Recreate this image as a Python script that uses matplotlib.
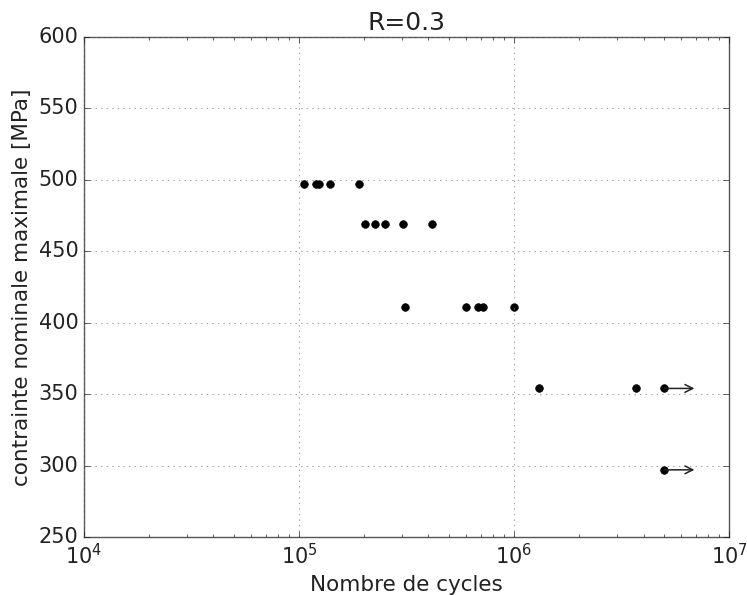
import matplotlib
matplotlib.use('Agg')
import matplotlib.pyplot as plt

# nombre de cycles et contrainte max pour R=0.3
cycles = [1.05e5, 1.20e5, 1.24e5, 1.39e5, 1.91e5,
          2.03e5, 2.26e5, 2.50e5, 3.06e5, 4.14e5,
          3.12e5, 5.96e5, 6.77e5, 7.14e5, 1.0e6,
          1.31e6, 3.69e6, 5.0e6,
          5.0e6]
contrainte = [497, 497, 497, 497, 497,
              469, 469, 469, 469, 469,
              411, 411, 411, 411, 411,
              354, 354, 354,
              297]
# essais arretes (non rompus)
runout_cycles = [5.0e6, 5.0e6]
runout_contrainte = [354, 297]

txt = '#222222'
plt.style.use('classic')
plt.rcParams['text.color'] = txt
plt.rcParams['axes.labelcolor'] = txt
plt.rcParams['xtick.color'] = txt
plt.rcParams['ytick.color'] = txt
plt.rcParams['axes.edgecolor'] = '#555555'
plt.rcParams['grid.color'] = '#777777'

fig = plt.figure(figsize=(7.47, 5.95), dpi=100)
ax = fig.add_axes([0.1124, 0.0975, 0.8636, 0.8403])
ax.semilogx(cycles, contrainte, 'ko', markersize=5.5)
for xr, yr in zip(runout_cycles, runout_contrainte):
    ax.annotate('', xy=(xr * 1.38, yr), xytext=(xr, yr),
                arrowprops=dict(arrowstyle='->', color='#222222', lw=1.1,
                                mutation_scale=14, shrinkA=0, shrinkB=0))
ax.set_xlim(1e4, 1e7)
ax.set_ylim(250, 600)
ax.grid(True)
ax.set_title('R=0.3', fontsize=18)
ax.set_xlabel('Nombre de cycles', fontsize=15.5)
ax.set_ylabel('contrainte nominale maximale [MPa]', fontsize=15.5)
ax.tick_params(labelsize=15)
fig.savefig('out.png', dpi=100)
